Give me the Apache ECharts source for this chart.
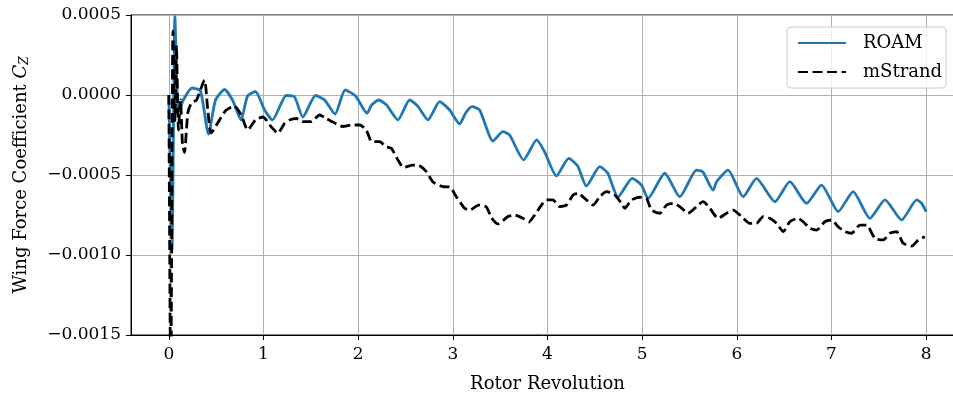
<!DOCTYPE html>
<html>
<head>
<meta charset="utf-8">
<script src="https://cdn.jsdelivr.net/npm/echarts@6/dist/echarts.min.js"></script>
<style>
html,body{margin:0;padding:0;background:#fff;}
#chart{width:953px;height:396px;}
</style>
</head>
<body>
<div id="chart"></div>
<script>
// Rotor revolution (x) and wing force coefficient Cz (y)
const roamX = [0, 0.033, 0.064, 0.101, 0.154, 0.244, 0.334, 0.419, 0.493, 0.588, 0.672, 0.762, 0.831, 0.915,
  1.011, 1.095, 1.240, 1.328, 1.415, 1.550, 1.645, 1.756, 1.862, 1.973,
  2.094, 2.142, 2.216, 2.300, 2.420, 2.543, 2.628, 2.737, 2.861, 2.966,
  3.072, 3.135, 3.204, 3.283, 3.424, 3.530, 3.600, 3.748, 3.886, 3.970,
  4.094, 4.224, 4.319, 4.411, 4.552, 4.636, 4.745, 4.895, 4.993,
  5.062, 5.239, 5.397, 5.574, 5.641, 5.750, 5.786, 5.908,
  6.067, 6.208, 6.402, 6.560, 6.737, 6.895,
  7.071, 7.229, 7.406, 7.565, 7.741, 7.900, 7.950, 8.0];
const roamY = [0, -0.00097, 0.00049, -0.000106, -0.00003, 0.0000438, 0.000025, -0.000244, -0.0000313, 0.0000344, -0.0000313, -0.000156, -0.0000063, 0.0000219,
  -0.0000938, -0.000156, -0.0000031, -0.0000125, -0.0001375, -0.0000031, -0.0000313, -0.000119, 0.0000313, -0.0000063,
  -0.000114, -0.0000625, -0.0000313, -0.0000625, -0.000156, -0.0000313, -0.0000688, -0.000156, -0.0000419, -0.0000938,
  -0.000181, -0.0001125, -0.0000731, -0.0000938, -0.0002875, -0.000229, -0.00025, -0.000406, -0.000281, -0.000356,
  -0.000506, -0.000396, -0.000444, -0.000569, -0.000448, -0.000488, -0.000638, -0.000521, -0.000563,
  -0.000646, -0.000489, -0.000636, -0.000469, -0.000481, -0.000594, -0.000542, -0.000469,
  -0.000636, -0.000521, -0.000667, -0.000542, -0.000677, -0.000563,
  -0.000729, -0.000604, -0.000771, -0.000656, -0.000781, -0.000656, -0.000675, -0.000729];

const mstrandX = [0, 0.02, 0.043, 0.064, 0.080, 0.101, 0.123, 0.144, 0.165, 0.200, 0.239, 0.292, 0.376, 0.411, 0.447,
  0.535, 0.606, 0.693, 0.764, 0.834, 0.915, 0.993,
  1.081, 1.151, 1.222, 1.275, 1.349, 1.415, 1.504, 1.592, 1.663, 1.733, 1.835, 1.930,
  2.015, 2.086, 2.142, 2.226, 2.297, 2.350, 2.420, 2.480, 2.578, 2.631, 2.720, 2.790, 2.895, 2.966,
  3.037, 3.125, 3.178, 3.273, 3.354, 3.407, 3.477, 3.582, 3.653, 3.741, 3.801, 3.865, 3.936, 3.988,
  4.058, 4.129, 4.200, 4.270, 4.322, 4.411, 4.481, 4.552, 4.623, 4.710, 4.781, 4.816, 4.887, 4.975,
  5.046, 5.098, 5.186, 5.257, 5.327, 5.397, 5.485, 5.591, 5.644, 5.715, 5.802, 5.891, 5.961,
  6.050, 6.138, 6.208, 6.278, 6.349, 6.420, 6.490, 6.560, 6.648, 6.701, 6.772, 6.843, 6.930,
  7.001, 7.071, 7.142, 7.213, 7.300, 7.371, 7.459, 7.547, 7.617, 7.688, 7.758, 7.847, 7.917, 7.987];
const mstrandY = [0, -0.0019, 0.00040, -0.00016, 0.00031, -0.00022, -0.00003, -0.00031, -0.00036, -0.0001125, -0.00005, -0.0000313, 0.0000938, -0.0000938, -0.0002375,
  -0.000156, -0.0000938, -0.0000688, -0.000125, -0.000219, -0.000156, -0.0001375,
  -0.000198, -0.000239, -0.000177, -0.000156, -0.000147, -0.000167, -0.000167, -0.000125, -0.000146, -0.000169, -0.000197, -0.0001875,
  -0.0001875, -0.000219, -0.000291, -0.000292, -0.000323, -0.000333, -0.000406, -0.000453, -0.000438, -0.000438, -0.000479, -0.000544, -0.000573, -0.000575,
  -0.000636, -0.000708, -0.000719, -0.000688, -0.0007, -0.000766, -0.000806, -0.00076, -0.00075, -0.000771, -0.000794, -0.00075, -0.000688, -0.000656,
  -0.000656, -0.000698, -0.000688, -0.000625, -0.000614, -0.000656, -0.000688, -0.000636, -0.000604, -0.000625, -0.000677, -0.000708, -0.000656, -0.000639,
  -0.000646, -0.000719, -0.000739, -0.000688, -0.000677, -0.000698, -0.000739, -0.000688, -0.000667, -0.000708, -0.000771, -0.000739, -0.000719,
  -0.00076, -0.000802, -0.000802, -0.00076, -0.000771, -0.000802, -0.000854, -0.000792, -0.000771, -0.000792, -0.000833, -0.000844, -0.000792,
  -0.000781, -0.000823, -0.000854, -0.000864, -0.000813, -0.000813, -0.000896, -0.000906, -0.000864, -0.000854, -0.000927, -0.000944, -0.000906, -0.000886];

const seriesNames = ['ROAM', 'mStrand'];
const xAxisTitle = 'Rotor Revolution';
const yAxisTitle = 'Wing Force Coefficient ';

const zip = (xs, ys) => xs.map((x, i) => [x, ys[i]]);
const FONT = 'DejaVu Serif';

const chart = echarts.init(document.getElementById('chart'), null, {renderer: 'canvas'});
chart.setOption({
  animation: false,
  backgroundColor: '#ffffff',
  grid: {left: 131, top: 15, right: -11, bottom: 61, outerBoundsMode: 'none', containLabel: false,
    show: true, borderColor: '#000', borderWidth: 1, backgroundColor: 'transparent'},
  legend: {
    left: 787, top: 27, orient: 'vertical',
    padding: [7, 4, 7, 10],
    itemWidth: 48, itemHeight: 14, itemGap: 11,
    backgroundColor: 'rgba(255,255,255,0.8)',
    borderColor: '#cccccc', borderWidth: 1, borderRadius: 4,
    itemStyle: {opacity: 0},
    textStyle: {fontFamily: FONT, fontSize: 18, color: '#000', padding: [0, 0, 0, 12]},
    data: seriesNames
  },
  xAxis: {
    type: 'value', min: -0.4, max: 8.4, splitNumber: 8,
    name: xAxisTitle, nameLocation: 'middle', nameGap: 40,
    nameTextStyle: {fontFamily: FONT, fontSize: 18, color: '#000'},
    axisLine: {show: true, onZero: false, lineStyle: {color: '#000', width: 1}},
    axisTick: {show: true, inside: false, length: 5, lineStyle: {color: '#000', width: 1}},
    axisLabel: {show: true, margin: 11, fontFamily: FONT, fontSize: 17, color: '#000', showMinLabel: false, showMaxLabel: false,
      formatter: v => String(Math.round(v))},
    splitLine: {show: true, lineStyle: {color: '#b0b0b0', width: 1}}
  },
  yAxis: {
    type: 'value', min: -0.0015, max: 0.0005, interval: 0.0005,
    name: '{t|' + yAxisTitle + '}{c|C}{s|Z}', nameLocation: 'middle', nameGap: 100, nameRotate: 90,
    nameTextStyle: {fontFamily: FONT, fontSize: 18, color: '#000',
      rich: {
        t: {fontFamily: FONT, fontSize: 18, color: '#000'},
        c: {fontFamily: FONT, fontSize: 18, fontStyle: 'italic', color: '#000'},
        s: {fontFamily: FONT, fontSize: 12, fontStyle: 'italic', color: '#000', padding: [8, 0, 0, 0]}
      }},
    axisLine: {show: true, onZero: false, lineStyle: {color: '#000', width: 1}},
    axisTick: {show: true, inside: false, length: 5, lineStyle: {color: '#000', width: 1}},
    axisLabel: {margin: 10, fontFamily: FONT, fontSize: 17, color: '#000',
      formatter: v => (v < -1e-12 ? '\u2212' : '') + Math.abs(v).toFixed(4)},
    splitLine: {show: true, lineStyle: {color: '#b0b0b0', width: 1}}
  },
  series: [
    {name: seriesNames[0], type: 'line', data: zip(roamX, roamY), showSymbol: false, symbol: 'none', smooth: 0.2,
      lineStyle: {color: '#1f77b4', width: 2.8, join: 'round'}, itemStyle: {color: '#1f77b4'}, z: 2, clip: true},
    {name: seriesNames[1], type: 'line', data: zip(mstrandX, mstrandY), showSymbol: false, symbol: 'none', smooth: 0.2,
      lineStyle: {color: '#000', width: 2.8, type: [10, 4.5], cap: 'butt'}, itemStyle: {color: '#000'}, z: 3, clip: true}
  ]
});
</script>
</body>
</html>
